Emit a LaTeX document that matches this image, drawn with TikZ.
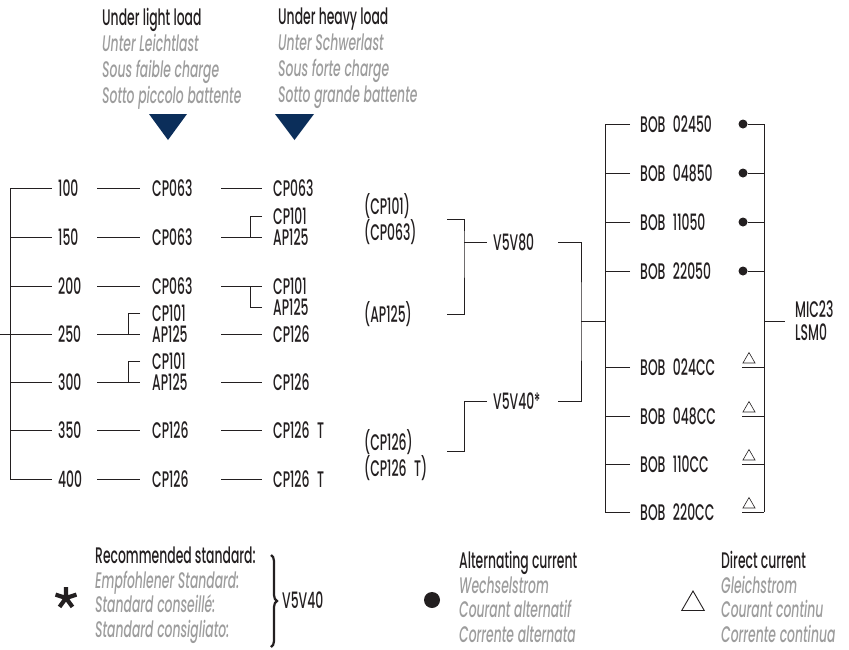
\documentclass[tikz,border=0pt]{standalone}
\usepackage{fontspec}
\setmainfont{Poppins}[FakeStretch=0.55, UprightFont=* Medium, ItalicFont=* Medium Italic]
\usetikzlibrary{shapes.geometric, decorations.pathreplacing}
\definecolor{ink}{HTML}{231F20}
\definecolor{transgray}{HTML}{9D9D9D}
\definecolor{loadnavy}{HTML}{0B2E5A}
\newcommand{\transl}[1]{{\color{transgray}\itshape #1}}

\begin{document}
\begin{tikzpicture}[
    x=1pt, y=1pt,
    font=\fontsize{22.5}{26}\selectfont,
    every node/.style={text=ink},
    wire/.style={draw=ink, line width=0.9pt},
    head/.style={anchor=north west, align=left, inner sep=0pt},
    legend/.style={head, font=\fontsize{22.5}{24.5}\selectfont},
    numcell/.style={anchor=west, text width=33pt, inner xsep=6pt, inner ysep=0pt},
    lightcell/.style={anchor=west, text width=57pt, inner xsep=12pt, inner ysep=0pt},
    heavycell/.style={anchor=west, text width=60pt, inner xsep=11pt, inner ysep=0pt},
    pumpcell/.style={anchor=west, text width=73pt, inner xsep=10pt, inner ysep=0pt},
    valvecell/.style={anchor=west, text width=59pt, inner xsep=6pt, inner ysep=0pt},
    bobcell/.style={anchor=west, text width=80pt, inner xsep=10pt, inner ysep=0pt},
    acdot/.style={circle, fill=ink, inner sep=0pt, minimum size=9pt},
    dcmark/.style={regular polygon, regular polygon sides=3, draw=ink, line width=0.6pt,
        inner sep=0pt, minimum size=14pt},
    bracedeco/.style={draw=ink, line width=2.2pt, decorate, decoration={brace, amplitude=6pt}},
    starmark/.style={draw=ink, line width=4.2pt},
]
\useasboundingbox (0,0) rectangle (849,-649);

% ===== Headings with load markers =====
\node[head] (hlight) at (102,-8) {Under light load\\ \transl{Unter Leichtlast}\\
    \transl{Sous faible charge}\\ \transl{Sotto piccolo battente}};
\node[head] (hheavy) at (278,-8) {Under heavy load\\ \transl{Unter Schwerlast}\\
    \transl{Sous forte charge}\\ \transl{Sotto grande battente}};
\fill[loadnavy] (149,-114) -- (187,-114) -- (168,-140) -- cycle;
\fill[loadnavy] (275,-114) -- (314,-114) -- (294.5,-140) -- cycle;

% ===== Head column =====
\node[numcell] (n100) at (52,-188) {100};
\node[numcell] (n150) at (52,-237) {150};
\node[numcell] (n200) at (52,-286) {200};
\node[numcell] (n250) at (52,-334) {250};
\node[numcell] (n300) at (52,-382) {300};
\node[numcell] (n350) at (52,-430) {350};
\node[numcell] (n400) at (52,-479) {400};
\coordinate (feed) at (0,-334);
\coordinate (lbus) at (10,-334);

% ===== Light load column =====
\node[lightcell] (l100)  at (140,-188) {CP063};
\node[lightcell] (l150)  at (140,-237) {CP063};
\node[lightcell] (l200)  at (140,-286) {CP063};
\node[lightcell] (l250a) at (140,-313) {CP101};
\node[lightcell] (l250b) at (140,-334) {AP125};
\node[lightcell] (l300a) at (140,-361) {CP101};
\node[lightcell] (l300b) at (140,-382) {AP125};
\node[lightcell] (l350)  at (140,-430) {CP126};
\node[lightcell] (l400)  at (140,-479) {CP126};

% ===== Heavy load column =====
\node[heavycell] (h100)  at (262,-188) {CP063};
\node[heavycell] (h150a) at (262,-216) {CP101};
\node[heavycell] (h150b) at (262,-237) {AP125};
\node[heavycell] (h200a) at (262,-286) {CP101};
\node[heavycell] (h200b) at (262,-307) {AP125};
\node[heavycell] (h250)  at (262,-334) {CP126};
\node[heavycell] (h300)  at (262,-382) {CP126};
\node[heavycell] (h350)  at (262,-430) {CP126 T};
\node[heavycell] (h400)  at (262,-479) {CP126 T};

% --- head bus and row wires ---
\draw[wire] (n100.west -| lbus) -- (n400.west -| lbus);
\draw[wire] (feed) -- (n250.west);
\draw[wire] (n100.west -| lbus) -- (n100.west);
\draw[wire] (n150.west -| lbus) -- (n150.west);
\draw[wire] (n200.west -| lbus) -- (n200.west);
\draw[wire] (n300.west -| lbus) -- (n300.west);
\draw[wire] (n350.west -| lbus) -- (n350.west);
\draw[wire] (n400.west -| lbus) -- (n400.west);

\draw[wire] (n100.east) -- (l100.west);
\draw[wire] (n150.east) -- (l150.west);
\draw[wire] (n200.east) -- (l200.west);
\draw[wire] (n250.east) -- (l250b.west);
\draw[wire] (l250a.west) -| ([xshift=-12pt]l250b.west);
\draw[wire] (n300.east) -- (l300b.west);
\draw[wire] (l300a.west) -| ([xshift=-12pt]l300b.west);
\draw[wire] (n350.east) -- (l350.west);
\draw[wire] (n400.east) -- (l400.west);

\draw[wire] (l100.east) -- (h100.west);
\draw[wire] (l150.east) -- (h150b.west);
\draw[wire] (h150a.west) -| ([xshift=-12pt]h150b.west);
\draw[wire] (l200.east) -- (h200a.west);
\draw[wire] (h200b.west) -| ([xshift=-12pt]h200a.west);
\draw[wire] (l250b.east) -- (h250.west);
\draw[wire] (l300b.east) -- (h300.west);
\draw[wire] (l350.east) -- (h350.west);
\draw[wire] (l400.east) -- (h400.west);

% ===== Pumps and valves =====
\node[pumpcell] (p1) at (354,-206) {(CP101)};
\node[pumpcell] (p2) at (354,-232) {(CP063)};
\node[pumpcell] (p3) at (354,-314) {(AP125)};
\node[pumpcell] (p4) at (354,-442) {(CP126)};
\node[pumpcell] (p5) at (354,-468) {(CP126 T)};

\node[valvecell] (v80) at (487,-242) {V5V80};
\node[valvecell] (v40) at (487,-401) {V5V40*};

\coordinate (v80top) at (447,-219);
\coordinate (j80)    at (464,-242);
\coordinate (j40)    at (464,-401);
\coordinate (v40bot) at (447,-451);
\coordinate (hub)    at (581,-321);

\draw[wire] (v80top) -| (j80) |- (p3.east);
\draw[wire] (j80) -- (v80.west);
\draw[wire] (v40.west) -- (j40) |- (v40bot);
\draw[wire] (v80.east) -| (hub) |- (v40.east);

% ===== Coils =====
\node[bobcell] (b1) at (630,-124) {BOB 02450};
\node[bobcell] (b2) at (630,-173) {BOB 04850};
\node[bobcell] (b3) at (630,-222) {BOB 11050};
\node[bobcell] (b4) at (630,-271) {BOB 22050};
\node[bobcell] (b5) at (630,-367) {BOB 024CC};
\node[bobcell] (b6) at (630,-416) {BOB 048CC};
\node[bobcell] (b7) at (630,-464) {BOB 110CC};
\node[bobcell] (b8) at (630,-512) {BOB 220CC};

\coordinate (lbar) at (605,-321);
\coordinate (rbar) at (764,-321);

\draw[wire] (hub) -- (lbar);
\draw[wire] (b1.west -| lbar) -- (b8.west -| lbar);
\draw[wire] (b1.west) -- (b1.west -| lbar);
\draw[wire] (b2.west) -- (b2.west -| lbar);
\draw[wire] (b3.west) -- (b3.west -| lbar);
\draw[wire] (b4.west) -- (b4.west -| lbar);
\draw[wire] (b5.west) -- (b5.west -| lbar);
\draw[wire] (b6.west) -- (b6.west -| lbar);
\draw[wire] (b7.west) -- (b7.west -| lbar);
\draw[wire] (b8.west) -- (b8.west -| lbar);

% AC / DC marks
\node[acdot] (ac1) at (743,-124) {};
\node[acdot] (ac2) at (743,-173) {};
\node[acdot] (ac3) at (743,-222) {};
\node[acdot] (ac4) at (743,-271) {};
\node[dcmark] (dc1) at (749,-359.5) {};
\node[dcmark] (dc2) at (749,-408.5) {};
\node[dcmark] (dc3) at (749,-456.5) {};
\node[dcmark] (dc4) at (749,-504.5) {};

\draw[wire] (ac1 -| rbar) -- (b8.east -| rbar);
\draw[wire] (ac1) -- (ac1 -| rbar);
\draw[wire] (ac2) -- (ac2 -| rbar);
\draw[wire] (ac3) -- (ac3 -| rbar);
\draw[wire] (ac4) -- (ac4 -| rbar);
\draw[wire] (b5.east -| dc1.corner 2) -- (b5.east -| rbar);
\draw[wire] (b6.east -| dc2.corner 2) -- (b6.east -| rbar);
\draw[wire] (b7.east -| dc3.corner 2) -- (b7.east -| rbar);
\draw[wire] (b8.east -| dc4.corner 2) -- (b8.east -| rbar);

\node[anchor=west, align=left, inner xsep=10pt, inner ysep=0pt,
      font=\fontsize{22.5}{23}\selectfont] (mic) at (785,-321) {MIC23\\LSM0};
\draw[wire] (rbar) -- (mic.west);

% ===== Legend =====
\coordinate (star) at (66,-598);
\draw[starmark] (star) -- ++(90:11) (star) -- ++(18:11) (star) -- ++(162:11)
    (star) -- ++(234:11) (star) -- ++(306:11);
\node[legend] (rec) at (95,-547) {Recommended standard:\\ \transl{Empfohlener Standard:}\\
    \transl{Standard conseillé:}\\ \transl{Standard consigliato:}};
\draw[bracedeco] (271,-555) -- (271,-647);
\node[anchor=west, inner sep=0pt] (stdvalve) at (282,-600) {V5V40};

\node[acdot, minimum size=16pt] (legac) at (432,-600) {};
\node[legend] (legactext) at (459,-551) {Alternating current\\ \transl{Wechselstrom}\\
    \transl{Courant alternatif}\\ \transl{Corrente alternata}};

\node[dcmark, minimum size=26pt, line width=0.9pt] (legdc) at (693,-604) {};
\node[legend] (legdctext) at (721,-551) {Direct current\\ \transl{Gleichstrom}\\
    \transl{Courant continu}\\ \transl{Corrente continua}};

\end{tikzpicture}
\end{document}
